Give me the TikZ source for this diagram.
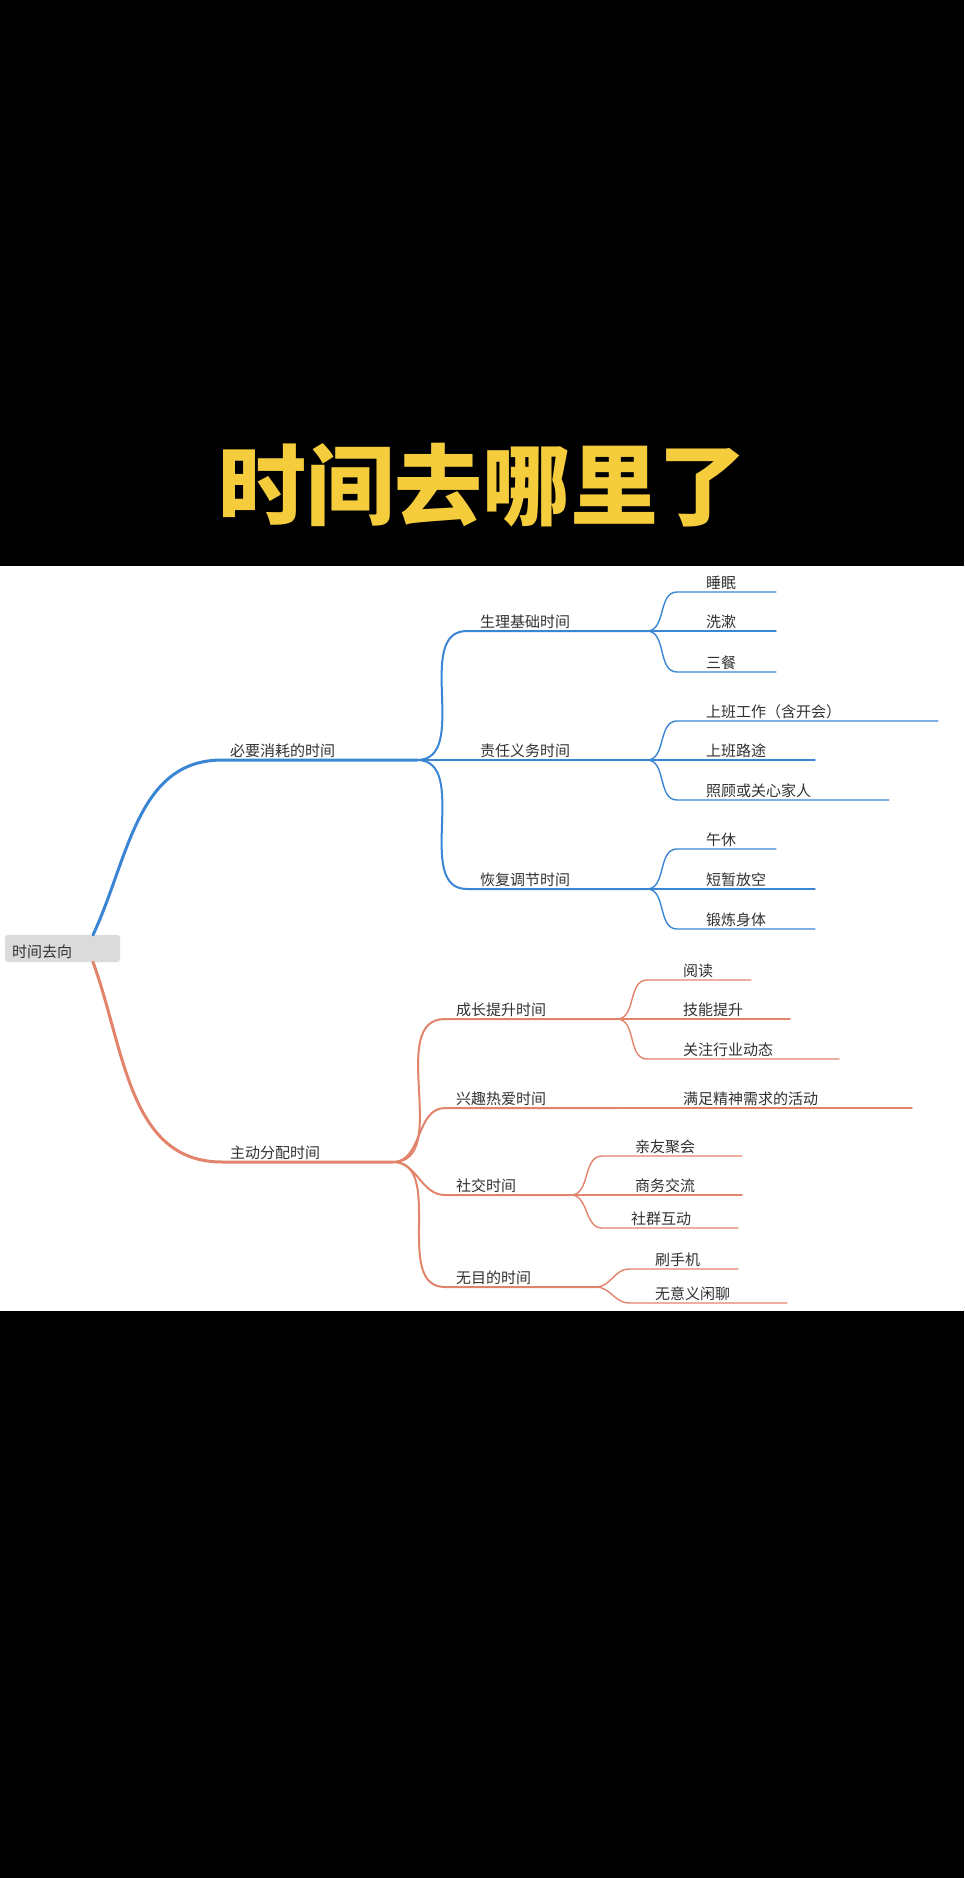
\documentclass[tikz,border=0pt]{standalone}
\usepackage{fontspec}
\setmainfont{Noto Sans CJK SC}
\usepackage{xcolor}
\definecolor{tblue}{RGB}{58,134,212}
\definecolor{torange}{RGB}{226,132,108}
\definecolor{ttext}{RGB}{50,50,50}
\definecolor{tyellow}{RGB}{245,205,60}

\tikzset{
	lvA/.style={line width=3pt, line cap=round},
	lvB/.style={line width=2pt, line cap=round},
	lvC/.style={line width=1.4pt, line cap=round},
	lab/.style={anchor=south west, inner sep=2pt, text=ttext, font=\fontsize{15}{15}\selectfont},
}

\begin{document}
\begin{tikzpicture}[x=1pt,y=-1pt]
	\fill[black] (0,0) rectangle (964,1878);
	\useasboundingbox (0,0) rectangle (964,1878);
	\fill[white] (0,566) rectangle (964,1311);
	
	\node[text=tyellow, font=\bfseries\fontsize{88}{88}\selectfont] (title) at (482,485) {时间去哪里了};
	
	% root
	\node[fill=black!14, rounded corners=3pt, minimum width=115pt, minimum height=27pt, inner sep=0pt] (root) at (62.5,948.5) {};
	\node[lab, anchor=west] (roottxt) at (10,952) {时间去向};
	\coordinate (rtop) at (93,935);
	\coordinate (rbot) at (93,962);
	
	% blue half
	\coordinate (nA) at (222,760); \coordinate (nAe) at (417,760);
	\draw[tblue, lvA] (rtop) to[out=65,in=180] (nA) -- (nAe);
	\node[lab] (nAt) at (228,760) {必要消耗的时间};
	\foreach \n/\y/\t in {a1/631/生理基础时间, a2/760/责任义务时间, a3/889/恢复调节时间}{
		\coordinate (\n) at (467,\y); \coordinate (\n e) at (647,\y);
		\draw[tblue, lvB] (nAe) to[out=0,in=180] (\n) -- (\n e);
		\node[lab] (\n t) at (478,\y) {\t};
	}
	\foreach \p/\n/\y/\e/\t in {a1/b1/592/776/睡眠, a1/b2/631/776/洗漱, a1/b3/672/776/三餐,
		a2/b4/721/938/上班工作（含开会）, a2/b5/760/815/上班路途, a2/b6/800/889/照顾或关心家人,
		a3/b7/849/776/午休, a3/b8/889/815/短暂放空, a3/b9/929/815/锻炼身体}{
		\coordinate (\n) at (677,\y); \coordinate (\n e) at (\e,\y);
		\draw[tblue, lvC] (\p e) to[out=0,in=180] (\n) -- (\n e);
		\node[lab] (\n t) at (704,\y) {\t};
	}
	
	% orange half
	\coordinate (nB) at (222,1162); \coordinate (nBe) at (393,1162);
	\draw[torange, lvA] (rbot) to[out=-70,in=180] (nB) -- (nBe);
	\node[lab] (nBt) at (228,1162) {主动分配时间};
	\foreach \n/\y/\e/\t in {c1/1019/617/成长提升时间, c2/1108/617/兴趣热爱时间, c3/1195/571/社交时间, c4/1287/596/无目的时间}{
		\coordinate (\n) at (445,\y); \coordinate (\n e) at (\e,\y);
		\draw[torange, lvB] (nBe) to[out=0,in=180] (\n) -- (\n e);
		\node[lab] (\n t) at (454,\y) {\t};
	}
	\foreach \p/\n/\s/\y/\e/\x/\t in {c1/d1/647/980/751/681/阅读, c1/d2/647/1019/790/681/技能提升, c1/d3/647/1059/839/681/关注行业动态,
		c3/d4/602/1156/742/633/亲友聚会, c3/d5/602/1195/742/633/商务交流, c3/d6/602/1228/738/629/社群互动,
		c4/d7/629/1269/738/653/刷手机, c4/d8/629/1303/787/653/无意义闲聊}{
		\coordinate (\n) at (\s,\y); \coordinate (\n e) at (\e,\y);
		\draw[torange, lvC] (\p e) to[out=0,in=180] (\n) -- (\n e);
		\node[lab] (\n t) at (\x,\y) {\t};
	}
	\coordinate (d0e) at (912,1108);
	\draw[torange, lvC] (c2e) -- (d0e);
	\node[lab] (d0t) at (681,1108) {满足精神需求的活动};
\end{tikzpicture}
\end{document}
